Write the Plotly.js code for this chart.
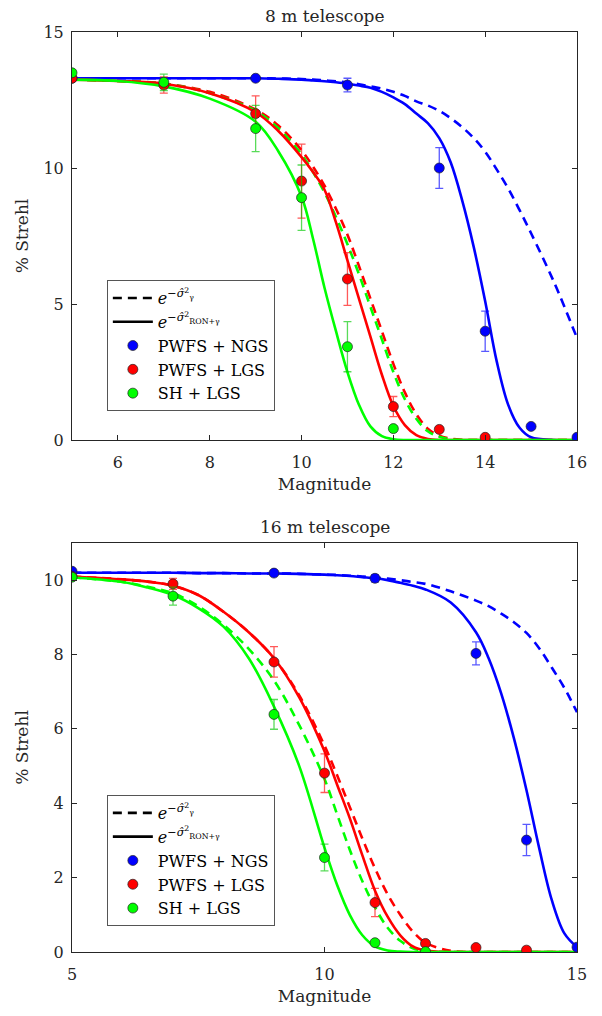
<!DOCTYPE html>
<html>
<head>
<meta charset="utf-8">
<script src="https://cdn.plot.ly/plotly-3.0.1.min.js"></script>
<style>body{margin:0;padding:0;background:#fff}#plot{width:602px;height:1016px}</style>
</head>
<body>
<div id="plot"></div>
<script>
// ---------- 8 m telescope ----------
const magCurve8 = [5, 6, 7, 8, 9, 9.5, 10, 10.25, 10.5, 10.75, 11, 11.25, 11.5, 11.75, 12, 12.25, 12.5, 12.75, 13, 13.25, 13.5, 13.75, 14, 14.25, 14.5, 14.75, 15, 15.5, 16];
const ngsSolid8 = [13.3, 13.3, 13.3, 13.3, 13.3, 13.28, 13.25, 13.22, 13.19, 13.15, 13.1, 13.03, 12.95, 12.8, 12.6, 12.35, 12.0, 11.65, 11.1, 10.2, 8.8, 7.1, 5.1, 2.9, 1.3, 0.45, 0.1, 0.0, 0.0];
const ngsDash8  = [13.3, 13.3, 13.3, 13.3, 13.3, 13.29, 13.27, 13.25, 13.22, 13.19, 13.15, 13.08, 13.0, 12.92, 12.8, 12.65, 12.45, 12.3, 12.1, 11.83, 11.5, 11.1, 10.6, 9.95, 9.25, 8.45, 7.6, 5.8, 3.75];
const lgsSolid8 = [13.25, 13.2, 13.1, 12.75, 12.05, 11.35, 10.4, 9.85, 9.2, 8.0, 6.6, 5.2, 3.8, 2.4, 1.25, 0.55, 0.18, 0.04, 0.0, 0, 0, 0, 0, 0, 0, 0, 0, 0, 0];
const lgsDash8  = [13.25, 13.2, 13.1, 12.8, 12.15, 11.55, 10.65, 10.05, 9.35, 8.5, 7.55, 6.4, 5.2, 4.0, 2.8, 1.75, 0.95, 0.42, 0.16, 0.05, 0.01, 0, 0, 0, 0, 0, 0, 0, 0];
const shDash8   = [13.25, 13.2, 13.1, 12.75, 12.1, 11.45, 10.5, 9.85, 9.1, 8.2, 7.2, 6.1, 4.9, 3.7, 2.5, 1.5, 0.78, 0.32, 0.12, 0.03, 0.0, 0, 0, 0, 0, 0, 0, 0, 0];
const shSolid8  = [13.25, 13.2, 13.0, 12.55, 11.7, 10.6, 8.95, 7.4, 5.6, 4.0, 2.5, 1.3, 0.5, 0.14, 0.03, 0, 0, 0, 0, 0, 0, 0, 0, 0, 0, 0, 0, 0, 0];

const ngsMag8 = [5, 9, 11, 13, 14, 15, 16];
const ngsVal8 = [13.3, 13.3, 13.05, 10.0, 4.0, 0.5, 0.1];
const ngsErr8 = [0.05, 0.05, 0.25, 0.75, 0.74, 0.07, 0.02];
const lgsMag8 = [5, 7, 9, 10, 11, 12, 13, 14];
const lgsVal8 = [13.3, 13.05, 12.0, 9.52, 5.92, 1.23, 0.39, 0.1];
const lgsErr8 = [0.05, 0.3, 0.65, 1.36, 0.97, 0.37, 0.05, 0.03];
const shMag8  = [5, 7, 9, 10, 11, 12];
const shVal8  = [13.5, 13.15, 11.45, 8.91, 3.43, 0.42];
const shErr8  = [0.1, 0.3, 0.85, 1.2, 0.92, 0.1];

// ---------- 16 m telescope ----------
const magCurve16 = [5, 6, 6.5, 7, 7.5, 8, 8.5, 9, 9.5, 10, 10.25, 10.5, 10.75, 11, 11.25, 11.5, 11.75, 12, 12.5, 13, 13.25, 13.5, 13.75, 14, 14.25, 14.5, 14.75, 15];
const ngsSolid16 = [10.2, 10.2, 10.2, 10.2, 10.19, 10.19, 10.18, 10.18, 10.17, 10.15, 10.13, 10.11, 10.08, 10.05, 10.0, 9.93, 9.85, 9.75, 9.4, 8.6, 7.9, 6.95, 5.75, 4.35, 2.8, 1.4, 0.5, 0.13];
const ngsDash16  = [10.2, 10.2, 10.2, 10.2, 10.19, 10.19, 10.18, 10.18, 10.17, 10.15, 10.14, 10.12, 10.1, 10.07, 10.04, 10.0, 9.95, 9.9, 9.7, 9.45, 9.3, 9.1, 8.87, 8.58, 8.17, 7.65, 7.1, 6.45];
const lgsSolid16 = [10.1, 10.02, 9.96, 9.85, 9.6, 9.15, 8.6, 7.9, 6.85, 5.4, 4.5, 3.6, 2.6, 1.65, 0.95, 0.45, 0.15, 0.04, 0, 0, 0, 0, 0, 0, 0, 0, 0, 0];
const lgsDash16  = [10.1, 10.02, 9.96, 9.85, 9.6, 9.15, 8.6, 7.9, 6.9, 5.55, 4.75, 3.9, 3.05, 2.25, 1.55, 1.0, 0.55, 0.25, 0.03, 0, 0, 0, 0, 0, 0, 0, 0, 0];
const shDash16   = [10.08, 9.95, 9.82, 9.65, 9.3, 8.8, 8.15, 7.3, 6.1, 4.65, 3.7, 2.75, 1.9, 1.2, 0.65, 0.3, 0.1, 0.03, 0, 0, 0, 0, 0, 0, 0, 0, 0, 0];
const shSolid16  = [10.08, 9.95, 9.8, 9.6, 9.25, 8.75, 7.9, 6.6, 5.0, 2.8, 1.8, 1.0, 0.45, 0.15, 0.04, 0.01, 0, 0, 0, 0, 0, 0, 0, 0, 0, 0, 0, 0];

const ngsMag16 = [5, 9, 11, 13, 14, 15];
const ngsVal16 = [10.24, 10.19, 10.05, 8.03, 3.01, 0.13];
const ngsErr16 = [0.03, 0.03, 0.1, 0.31, 0.42, 0.03];
const lgsMag16 = [5, 7, 9, 10, 11, 12, 13, 14];
const lgsVal16 = [10.1, 9.9, 7.8, 4.81, 1.33, 0.23, 0.12, 0.05];
const lgsErr16 = [0.05, 0.15, 0.41, 0.52, 0.38, 0.03, 0.02, 0.01];
const shMag16  = [5, 7, 9, 10, 11, 12];
const shVal16  = [10.08, 9.57, 6.39, 2.54, 0.25, 0.01];
const shErr16  = [0.05, 0.24, 0.4, 0.36, 0.05, 0.02];

const xTicks8 = [6, 8, 10, 12, 14, 16];
const yTicks8 = [0, 5, 10, 15];
const xTicks16 = [5, 10, 15];
const yTicks16 = [0, 2, 4, 6, 8, 10];

const labelDash = '<i>e</i><sup>−<i>σ̂</i><sup>2</sup><sub>γ</sub></sup>';
const labelSolid = '<i>e</i><sup>−<i>σ̂</i><sup>2</sup><sub>RON+γ</sub></sup>';
const names = ['PWFS + NGS', 'PWFS + LGS', 'SH + LGS'];

const BLUE = '#0000ff', RED = '#ff0000', GREEN = '#00ff00';
const ERRC = {b: 'rgba(0,0,255,0.65)', r: 'rgba(255,0,0,0.65)', g: 'rgba(0,200,0,0.65)'};
const FONT = 'DejaVu Serif';

function line(x, y, color, dash, xa, ya) {
  return {x: x, y: y, type: 'scatter', mode: 'lines', xaxis: xa, yaxis: ya,
    line: {color: color, width: 2.6, dash: dash ? '9px,6px' : 'solid', shape: 'spline', smoothing: 1},
    showlegend: false, hoverinfo: 'skip'};
}
function pts(x, y, e, color, ec, name, xa, ya, leg) {
  return {x: x, y: y, type: 'scatter', mode: 'markers', xaxis: xa, yaxis: ya, name: name,
    legend: leg, showlegend: true,
    marker: {color: color, size: 10, line: {color: '#222', width: 0.7}},
    error_y: {type: 'data', array: e, visible: true, color: ec, thickness: 1.3, width: 4}};
}
function legLine(dash, label, leg, xa, ya) {
  return {x: [null], y: [null], type: 'scatter', mode: 'lines', xaxis: xa, yaxis: ya, name: label,
    legend: leg, line: {color: '#000', width: 2.6, dash: dash ? '9px,6px' : 'solid'}, showlegend: true};
}

const data = [
  legLine(true, labelDash, 'legend', 'x', 'y'),
  legLine(false, labelSolid, 'legend', 'x', 'y'),
  line(magCurve8, ngsDash8, BLUE, true, 'x', 'y'),
  line(magCurve8, lgsDash8, RED, true, 'x', 'y'),
  line(magCurve8, shDash8, GREEN, true, 'x', 'y'),
  line(magCurve8, ngsSolid8, BLUE, false, 'x', 'y'),
  line(magCurve8, lgsSolid8, RED, false, 'x', 'y'),
  line(magCurve8, shSolid8, GREEN, false, 'x', 'y'),
  pts(ngsMag8, ngsVal8, ngsErr8, BLUE, ERRC.b, names[0], 'x', 'y', 'legend'),
  pts(lgsMag8, lgsVal8, lgsErr8, RED, ERRC.r, names[1], 'x', 'y', 'legend'),
  pts(shMag8, shVal8, shErr8, GREEN, ERRC.g, names[2], 'x', 'y', 'legend'),

  legLine(true, labelDash, 'legend2', 'x2', 'y2'),
  legLine(false, labelSolid, 'legend2', 'x2', 'y2'),
  line(magCurve16, ngsDash16, BLUE, true, 'x2', 'y2'),
  line(magCurve16, lgsDash16, RED, true, 'x2', 'y2'),
  line(magCurve16, shDash16, GREEN, true, 'x2', 'y2'),
  line(magCurve16, ngsSolid16, BLUE, false, 'x2', 'y2'),
  line(magCurve16, lgsSolid16, RED, false, 'x2', 'y2'),
  line(magCurve16, shSolid16, GREEN, false, 'x2', 'y2'),
  pts(ngsMag16, ngsVal16, ngsErr16, BLUE, ERRC.b, names[0], 'x2', 'y2', 'legend2'),
  pts(lgsMag16, lgsVal16, lgsErr16, RED, ERRC.r, names[1], 'x2', 'y2', 'legend2'),
  pts(shMag16, shVal16, shErr16, GREEN, ERRC.g, names[2], 'x2', 'y2', 'legend2')
];

const axisCommon = {
  showgrid: false, zeroline: false, showline: true, mirror: 'ticks', linecolor: '#262626', linewidth: 1,
  ticks: 'inside', ticklen: 5, tickcolor: '#262626', tickwidth: 1,
  tickfont: {family: FONT, size: 16, color: '#262626'}
};
const titleFont = {family: FONT, size: 17, color: '#262626'};

const legendCommon = {
  xanchor: 'left', yanchor: 'top', bgcolor: '#fff', bordercolor: '#555', borderwidth: 1,
  font: {family: FONT, size: 16, color: '#000'}, tracegroupgap: 0, itemwidth: 40
};

const layout = {
  width: 602, height: 1016, paper_bgcolor: '#fff', plot_bgcolor: '#fff',
  margin: {l: 72, r: 25, t: 32, b: 64},
  showlegend: true,
  xaxis: Object.assign({}, axisCommon, {domain: [0, 1], anchor: 'y', range: [5, 16], tickvals: xTicks8,
    ticklabelstandoff: 8, title: {text: 'Magnitude', font: titleFont, standoff: 6}}),
  yaxis: Object.assign({}, axisCommon, {domain: [0.5565, 1], anchor: 'x', range: [0, 15], tickvals: yTicks8,
    ticklabelstandoff: 4, title: {text: '% Strehl', font: titleFont, standoff: 10}}),
  xaxis2: Object.assign({}, axisCommon, {domain: [0, 1], anchor: 'y2', range: [5, 15], tickvals: xTicks16,
    ticklabelstandoff: 8, title: {text: 'Magnitude', font: titleFont, standoff: 6}}),
  yaxis2: Object.assign({}, axisCommon, {domain: [0, 0.4446], anchor: 'x2', range: [0, 11], tickvals: yTicks16,
    ticklabelstandoff: 4, title: {text: '% Strehl', font: titleFont, standoff: 10}}),
  legend: Object.assign({}, legendCommon, {x: 0.069, y: 0.7304}),
  legend2: Object.assign({}, legendCommon, {x: 0.069, y: 0.1707}),
  annotations: [
    {text: '8 m telescope', xref: 'paper', yref: 'paper', x: 0.5, y: 1.0, yshift: 4, yanchor: 'bottom',
      showarrow: false, font: titleFont},
    {text: '16 m telescope', xref: 'paper', yref: 'paper', x: 0.5, y: 0.4446, yshift: 4, yanchor: 'bottom',
      showarrow: false, font: titleFont}
  ]
};

Plotly.newPlot('plot', data, layout, {staticPlot: true, displayModeBar: false});
</script>
</body>
</html>
